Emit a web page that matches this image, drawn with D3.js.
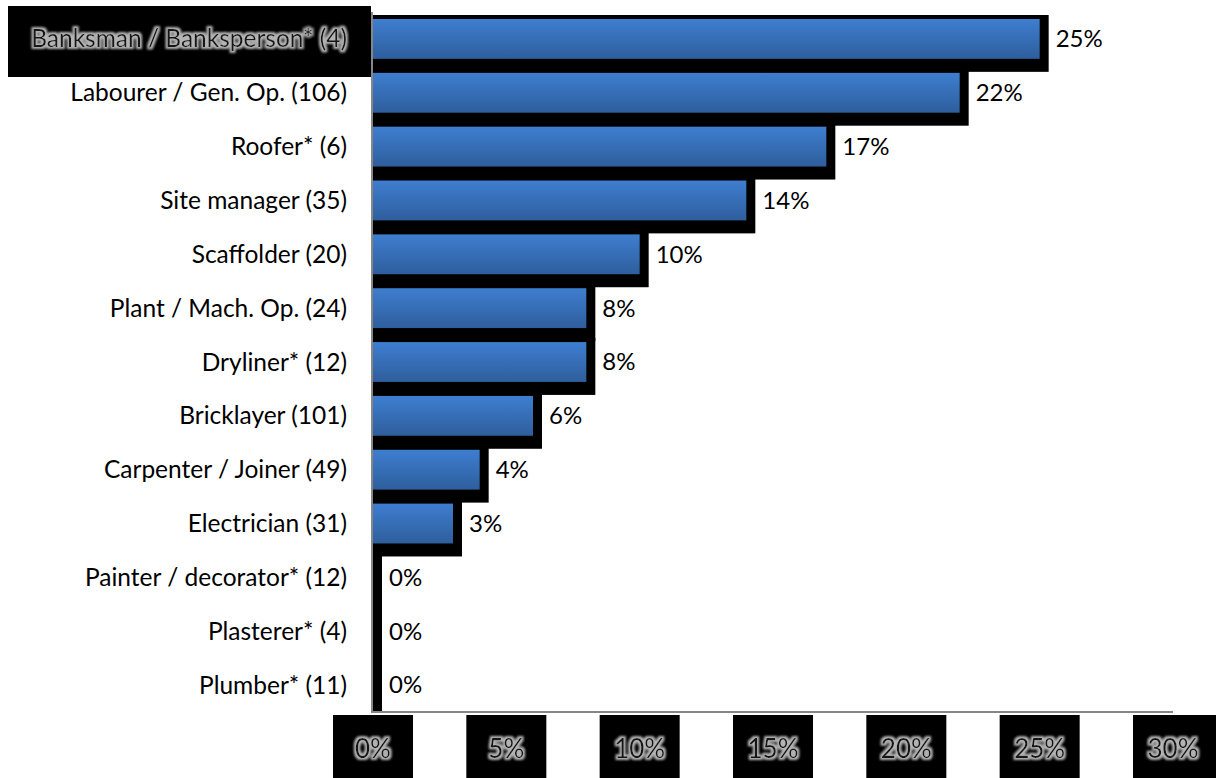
<!DOCTYPE html>
<html>
<head>
<meta charset="utf-8">
<script src="https://cdn.jsdelivr.net/npm/d3@7"></script>
<style>
  html, body { margin: 0; padding: 0; background: #fff; }
  svg { display: block; }
  text { font-family: Lato, "Open Sans", sans-serif; }
</style>
</head>
<body>
<div id="chart"></div>
<script>
// Trades, with respondent counts in brackets
const categories = [
  "Banksman / Banksperson* (4)",
  "Labourer / Gen. Op. (106)",
  "Roofer* (6)",
  "Site manager (35)",
  "Scaffolder (20)",
  "Plant / Mach. Op. (24)",
  "Dryliner* (12)",
  "Bricklayer (101)",
  "Carpenter / Joiner (49)",
  "Electrician (31)",
  "Painter / decorator* (12)",
  "Plasterer* (4)",
  "Plumber* (11)"
];
// Share per trade, percent
const values = [25, 22, 17, 14, 10, 8, 8, 6, 4, 3, 0, 0, 0];
const valueLabels = ["25%", "22%", "17%", "14%", "10%", "8%", "8%", "6%", "4%", "3%", "0%", "0%", "0%"];
const tickValues = [0, 5, 10, 15, 20, 25, 30];
const tickLabels = ["0%", "5%", "10%", "15%", "20%", "25%", "30%"];
const highlighted = "Banksman / Banksperson* (4)";

const W = 1216, H = 778;
const plot = { left: 373, right: 1173, top: 12, bottom: 712 };

const svg = d3.select("#chart").append("svg")
  .attr("width", W).attr("height", H);

const defs = svg.append("defs");

const grad = defs.append("linearGradient")
  .attr("id", "barFill").attr("x1", 0).attr("y1", 0).attr("x2", 0).attr("y2", 1);
grad.append("stop").attr("offset", "0%").attr("stop-color", "#3e7ed0");
grad.append("stop").attr("offset", "100%").attr("stop-color", "#2e5e9c");

// grey glow around dark lettering
const glow = defs.append("filter").attr("id", "glow")
  .attr("x", "-20%").attr("y", "-40%").attr("width", "140%").attr("height", "180%");
glow.append("feMorphology").attr("in", "SourceAlpha").attr("operator", "dilate")
  .attr("radius", 1.7).attr("result", "thick");
glow.append("feGaussianBlur").attr("in", "thick").attr("stdDeviation", 1.2).attr("result", "soft");
glow.append("feFlood").attr("flood-color", "#b4b4b4").attr("result", "col");
glow.append("feComposite").attr("in", "col").attr("in2", "soft").attr("operator", "in").attr("result", "halo");
const merge = glow.append("feMerge");
merge.append("feMergeNode").attr("in", "halo");
merge.append("feMergeNode").attr("in", "SourceGraphic");

defs.append("clipPath").attr("id", "plotClip")
  .append("rect").attr("x", plot.left - 2).attr("y", plot.top)
  .attr("width", W - plot.left).attr("height", plot.bottom - plot.top);

const x = d3.scaleLinear().domain([0, 30]).range([plot.left, plot.right]);
const y = d3.scaleBand().domain(categories).range([plot.top, plot.bottom])
  .paddingInner(0.26).paddingOuter(0.13);

const rows = categories.map((c, i) => ({ c, v: values[i], label: valueLabels[i] }));

// bar shadows then bars
const barsG = svg.append("g").attr("clip-path", "url(#plotClip)");
barsG.selectAll("rect.shadow").data(rows).join("rect")
  .attr("class", "shadow")
  .attr("x", x(0))
  .attr("y", d => y(d.c) - 4)
  .attr("width", d => x(d.v) - x(0) + 9)
  .attr("height", y.bandwidth() + 17)
  .attr("fill", "#000");
barsG.selectAll("rect.bar").data(rows.filter(d => d.v > 0)).join("rect")
  .attr("class", "bar")
  .attr("x", x(0))
  .attr("y", d => y(d.c))
  .attr("width", d => x(d.v) - x(0))
  .attr("height", y.bandwidth())
  .attr("fill", "url(#barFill)");

// axis lines
svg.append("line").attr("x1", plot.left - 1).attr("x2", plot.left - 1)
  .attr("y1", plot.top).attr("y2", plot.bottom)
  .attr("stroke", "#868686").attr("stroke-width", 2);
svg.append("line").attr("x1", plot.left - 2).attr("x2", plot.right)
  .attr("y1", plot.bottom).attr("y2", plot.bottom)
  .attr("stroke", "#868686").attr("stroke-width", 2);

// value labels
svg.append("g").selectAll("text").data(rows).join("text")
  .attr("x", d => x(d.v) + 16)
  .attr("y", d => y(d.c) + y.bandwidth() / 2)
  .attr("dy", "0.35em")
  .attr("font-size", 24)
  .attr("fill", "#000")
  .text(d => d.label);

// category labels
const catG = svg.append("g");
catG.append("rect")
  .attr("x", 8).attr("width", plot.left - 2 - 8)
  .attr("y", y(highlighted) - 13).attr("height", 71)
  .attr("fill", "#000");
catG.selectAll("text").data(rows).join("text")
  .attr("x", plot.left - 26)
  .attr("y", d => y(d.c) + y.bandwidth() / 2)
  .attr("dy", "0.35em")
  .attr("text-anchor", "end")
  .attr("font-size", 24.5)
  .attr("fill", d => d.c === highlighted ? "#141414" : "#000")
  .attr("filter", d => d.c === highlighted ? "url(#glow)" : null)
  .text(d => d.c);

// x axis tick labels on dark tiles
const ticks = tickValues.map((v, i) => ({ v, label: tickLabels[i] }));
const tickG = svg.append("g");
tickG.selectAll("rect").data(ticks).join("rect")
  .attr("x", d => x(d.v) - 40)
  .attr("y", 715)
  .attr("width", (d, i) => i === ticks.length - 1 ? W - (x(d.v) - 46) : 80)
  .attr("height", H - 715)
  .attr("fill", "#000");
tickG.selectAll("text").data(ticks).join("text")
  .attr("x", d => x(d.v))
  .attr("y", 749)
  .attr("dy", "0.35em")
  .attr("text-anchor", "middle")
  .attr("font-size", 26)
  .attr("fill", "#141414")
  .attr("filter", "url(#glow)")
  .text(d => d.label);
</script>
</body>
</html>
